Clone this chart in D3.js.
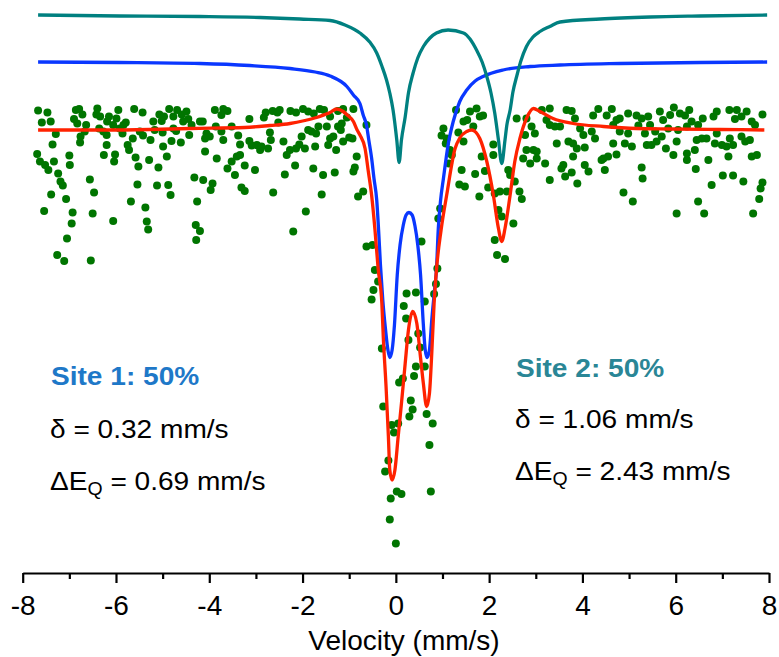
<!DOCTYPE html>
<html>
<head>
<meta charset="utf-8">
<script src="https://cdn.jsdelivr.net/npm/d3@7"></script>
<style>
  body { margin: 0; background: #fff; }
  svg { display: block; font-family: "Liberation Sans", Arial, sans-serif; }
</style>
</head>
<body>
<svg id="chart" width="779" height="657"></svg>
<script>
// velocity ticks
const majorTicks = [-8, -6, -4, -2, 0, 2, 4, 6, 8];
const minorTicks = [-7, -5, -3, -1, 1, 3, 5, 7];

// measured spectrum [velocity mm/s, relative transmission %]
const measured = [
  [-7.67,100.39],[-7.47,100.35],[-7.59,100.15],[-7.40,100.17],[-6.86,100.40],[-6.79,100.42],[-6.72,100.31],[-6.90,100.22],[-6.83,100.13],[-6.64,100.10],
  [-6.40,100.43],[-6.42,100.31],[-6.34,100.27],[-6.15,100.27],[-6.19,100.17],[-5.95,100.40],[-5.99,100.23],[-6.06,100.10],[-5.84,100.10],[-5.79,100.15],
  [-5.92,100.03],[-5.61,100.42],[-5.43,100.35],[-5.20,100.17],[-5.07,100.31],[-4.97,100.27],[-5.02,100.18],[-4.86,100.42],[-4.69,100.40],[-4.77,100.27],
  [-4.59,100.31],[-4.49,100.37],[-4.45,100.22],[-4.56,100.17],[-4.38,100.10],[-4.77,100.03],[-4.20,100.17],
  [-7.29,99.92],[-6.67,99.97],[-6.76,99.87],[-6.27,99.97],[-6.20,99.90],[-6.36,100.03],[-5.86,99.93],[-5.64,99.83],[-5.49,99.97],[-5.42,99.89],
  [-5.00,99.95],[-4.71,99.98],[-4.43,99.90],[-5.17,100.00],
  [-7.36,99.71],[-6.77,99.75],[-6.20,99.70],[-5.75,99.70],[-5.72,99.60],[-5.26,99.80],[-4.99,99.67],[-4.81,99.78],[-4.61,99.75],
  [-7.69,99.52],[-7.63,99.37],[-7.52,99.30],[-7.45,99.20],[-7.33,99.37],[-7.00,99.49],[-6.99,99.30],[-7.24,99.13],[-6.26,99.50],[-6.02,99.51],
  [-6.04,99.37],[-5.58,99.45],[-5.52,99.27],[-5.29,99.40],[-5.09,99.25],[-4.91,99.47],
  [-6.56,99.01],[-7.19,98.97],[-7.14,98.89],[-5.54,98.91],[-5.12,98.89],[-4.88,98.90],[-4.32,99.05],
  [-7.39,98.71],[-6.47,98.75],[-7.07,98.62],[-4.83,98.70],[-5.68,98.57],[-5.37,98.45],[-4.26,98.57],
  [-7.54,98.38],[-6.93,98.35],[-6.50,98.33],[-6.06,98.18],[-6.95,98.13],[-5.34,98.17],[-5.31,98.01],[-4.29,98.10],[-4.28,97.80],[-7.05,97.83],
  [-7.26,97.50],[-7.11,97.38],[-6.54,97.39],
  [-3.88,100.40],[-3.70,100.42],[-3.61,100.38],[-3.74,100.30],[-3.14,100.22],[-2.83,100.25],[-2.79,100.35],[-2.64,100.38],[-2.54,100.35],[-2.49,100.40],
  [-2.52,100.15],[-2.26,100.38],[-2.14,100.35],[-1.99,100.42],[-1.88,100.37],[-1.76,100.33],[-1.63,100.42],[-1.54,100.40],[-1.41,100.27],[-1.24,100.38],
  [-1.13,100.42],[-0.91,100.42],[-1.05,100.25],
  [-4.14,100.17],[-4.06,99.93],[-3.99,99.87],[-4.09,99.83],[-3.86,100.07],[-3.74,99.97],[-3.70,99.80],[-3.52,100.07],[-3.38,99.89],[-3.34,99.71],
  [-3.14,99.78],[-3.09,99.69],[-2.98,99.70],[-2.91,99.60],[-2.88,99.67],[-2.70,99.95],[-2.68,99.80],[-2.74,99.63],[-2.41,99.77],[-2.27,99.60],
  [-2.34,99.50],[-2.14,99.63],[-2.07,99.71],[-2.02,99.87],[-1.95,99.63],[-1.88,100.00],[-1.81,99.97],[-1.71,99.93],[-1.66,100.07],[-1.73,99.67],
  [-1.48,100.07],[-1.41,99.83],[-1.34,99.87],[-1.24,100.07],[-1.18,100.00],[-1.16,100.13],[-1.13,99.77],[-1.00,99.85],[-0.93,99.83],[-1.28,99.60],
  [-1.45,99.70],[-0.63,100.10],
  [-4.09,99.57],[-3.84,99.43],[-3.52,99.37],[-3.41,99.47],[-3.34,99.50],[-3.61,99.23],[-3.45,99.10],[-3.24,99.29],[-3.02,99.20],[-2.38,99.11],
  [-2.16,99.29],[-1.77,99.23],[-1.56,99.10],[-1.31,99.15],[-0.91,99.17],[-0.88,99.25],[-0.84,99.47],
  [-4.13,99.00],[-3.93,98.93],[-3.97,98.80],[-3.31,98.85],[-3.24,98.78],[-2.63,98.75],[-1.59,98.71],[-0.81,98.67],[-0.70,98.77],[-1.93,98.37],
  [-4.20,97.98],[-2.20,97.97],[-0.63,97.67],[-0.50,97.70],[-0.45,97.20],
  [1.29,100.40],[1.59,100.37],[1.73,100.43],[1.80,100.27],[1.87,100.29],[1.45,100.17],[1.53,100.20],[1.66,100.07],[1.02,100.03],[0.98,99.89],
  [1.09,99.83],[1.34,99.95],[1.07,99.73],[1.16,99.60],[1.20,99.50],[1.14,99.33],[1.45,99.77],[1.41,99.20],[1.70,99.12],[1.84,99.47],
  [1.91,99.18],[2.09,99.71],[2.09,99.50],[2.41,99.20],[2.45,99.10],[2.55,98.97],[1.79,98.67],[1.98,98.85],[2.12,98.73],[2.23,98.77],
  [2.38,98.77],[2.65,98.77],[2.70,98.62],[1.36,98.91],[1.48,98.87],[0.95,98.43],[0.91,98.23],[0.55,97.77],[2.52,98.13],[2.12,97.80],
  [2.20,98.40],[2.27,98.27],[2.17,97.50],[2.34,97.42],[0.89,97.23],
  [2.59,100.23],[2.80,100.23],[2.91,100.07],[2.98,99.93],[2.77,99.90],[2.80,99.60],[2.95,99.60],[3.02,99.57],[2.73,99.43],[2.88,99.33],
  [3.02,99.43],[3.20,99.33],[3.13,100.40],[3.30,100.43],[3.23,100.20],[3.30,100.10],[3.41,100.07],[3.52,100.07],[3.66,100.40],[3.45,99.73],
  [3.70,99.77],[3.80,99.73],[3.59,99.30],[3.55,99.23],[3.63,99.07],[3.77,99.15],[3.30,99.00],[3.80,99.47],
  [3.77,100.38],[3.84,100.23],[4.23,100.29],[4.34,100.42],[4.52,100.29],[4.63,100.42],[4.73,100.20],[4.80,100.23],[4.98,100.33],[5.16,100.29],
  [5.27,100.23],[5.41,100.27],[5.66,100.37],[5.73,100.20],[5.88,100.30],[5.96,100.45],[6.09,100.33],[6.20,100.29],[6.29,100.40],[6.34,100.17],
  [6.58,100.23],[6.81,100.27],[6.88,100.37],[7.15,100.40],[7.31,100.40],[7.27,100.22],[7.41,100.27],[7.52,100.37],[7.63,100.17],[7.70,100.10],
  [7.86,100.31],
  [3.95,100.03],[4.02,99.90],[4.20,99.97],[4.27,99.83],[4.66,100.10],[4.80,99.97],[4.98,99.93],[5.20,100.09],[5.34,99.93],[5.45,100.10],
  [5.38,99.70],[5.56,99.97],[5.59,99.77],[5.48,99.70],[5.70,99.87],[5.84,100.03],[6.05,100.00],[6.24,100.07],[6.48,100.10],[6.66,99.83],
  [6.45,99.80],[6.56,99.83],[6.88,99.93],[6.84,99.73],[6.99,99.70],[7.16,99.83],[7.23,99.70],[7.09,99.67],[7.41,99.87],[7.49,99.77],
  [7.59,99.80],[4.91,99.73],[4.66,99.73],[5.06,99.67],[3.88,99.63],[4.05,99.65],[5.79,99.63],[5.95,99.50],[6.02,99.77],[6.24,99.53],
  [6.41,99.60],[6.70,99.40],[6.24,99.40],[7.13,99.47],[7.63,99.47],[7.74,99.50],
  [4.45,99.43],[4.41,99.40],[4.55,99.47],[4.73,99.51],[4.05,99.30],[4.13,99.17],[4.48,99.20],[5.27,99.25],[5.29,99.03],[6.43,99.22],
  [3.89,98.93],[4.88,98.75],[5.08,98.57],[6.77,98.90],[7.01,99.09],[7.23,99.09],[7.45,98.97],[7.86,98.95],[7.82,98.83],[7.79,98.62],
  [6.48,98.57],[6.02,98.33],[6.61,98.33],[7.66,98.33],
  [-0.38,96.97],[-0.48,96.80],[-0.52,96.61],[0.23,96.73],[0.43,96.75],[0.62,96.57],[0.82,96.72],[0.86,96.92],[0.17,96.48],[0.22,96.23],
  [0.27,95.80],[0.48,95.93],[-0.30,95.63],[0.52,95.65],[0.43,95.27],[0.62,95.27],[0.39,95.08],[0.15,95.03],[0.07,94.95],[0.32,94.59],
  [0.36,94.41],[-0.27,94.47],[0.29,94.27],[0.66,94.32],[0.79,94.13],[-0.09,94.10],[0.05,94.13],[-0.04,93.95],[0.72,93.70],[-0.16,93.39],
  [-0.23,93.17],[0.02,92.77],[0.12,92.72],[-0.11,92.63],[0.75,92.77],[-0.13,92.21],[0.00,91.73]
];

// total fit (red)
const fitTotal = [
  [-7.67,100.00],[-6.34,100.00],[-5.27,100.01],[-4.41,100.03],[-3.24,100.05],[-2.70,100.09],[-2.27,100.13],[-1.95,100.19],
  [-1.70,100.25],[-1.52,100.31],[-1.41,100.35],[-1.27,100.42],[-1.13,100.37],[-1.03,100.29],[-0.91,100.17],[-0.83,100.00],
  [-0.77,99.90],[-0.66,99.63],[-0.59,99.17],[-0.52,98.70],[-0.45,98.03],[-0.38,97.23],[-0.30,96.53],[-0.27,95.87],
  [-0.21,94.87],[-0.16,93.87],[-0.13,93.20],[-0.08,93.00],[-0.02,93.20],[0.05,93.87],[0.12,94.53],[0.20,95.33],
  [0.27,96.00],[0.36,96.37],[0.45,96.13],[0.52,95.53],[0.59,94.93],[0.66,94.47],[0.72,94.73],[0.77,95.53],
  [0.82,96.53],[0.87,97.20],[0.97,98.00],[1.09,98.70],[1.27,99.63],[1.37,99.84],[1.52,99.97],[1.63,100.00],
  [1.72,99.95],[1.80,99.83],[1.95,99.37],[2.09,98.70],[2.20,98.03],[2.27,97.77],[2.34,98.03],[2.45,98.70],
  [2.55,99.37],[2.66,99.83],[2.80,100.23],[2.95,100.43],[3.09,100.37],[3.37,100.23],[3.80,100.13],[4.45,100.07],
  [5.16,100.03],[5.88,100.02],[6.95,100.01],[7.90,100.00]
];

// site 1 doublet (blue, offset)
const fitSite1 = [
  [-7.67,101.36],[-5.92,101.35],[-4.20,101.33],[-3.13,101.29],[-2.27,101.23],[-1.73,101.16],[-1.41,101.08],[-1.05,100.87],
  [-0.91,100.70],[-0.77,100.53],[-0.70,100.30],[-0.63,100.10],[-0.58,99.80],[-0.52,99.44],[-0.47,99.04],[-0.41,98.60],
  [-0.37,98.00],[-0.33,97.30],[-0.28,96.60],[-0.22,96.00],[-0.17,95.60],[-0.13,95.45],[-0.08,95.60],[-0.03,96.10],
  [0.03,97.10],[0.09,97.70],[0.16,98.10],[0.22,98.30],[0.28,98.35],[0.35,98.30],[0.41,98.08],[0.47,97.70],
  [0.53,97.10],[0.59,96.10],[0.63,95.60],[0.67,95.45],[0.72,95.60],[0.77,96.20],[0.83,96.80],[0.87,97.20],
  [0.91,98.03],[0.96,98.60],[1.02,99.03],[1.12,99.70],[1.23,100.17],[1.37,100.57],[1.52,100.80],[1.70,100.98],
  [1.87,101.07],[2.30,101.20],[2.88,101.27],[3.52,101.30],[4.80,101.33],[6.52,101.35],[7.96,101.36]
];

// site 2 doublet (teal, offset)
const fitSite2 = [
  [-7.67,102.30],[-5.92,102.28],[-4.20,102.27],[-2.91,102.25],[-2.06,102.22],[-1.41,102.19],[-1.09,102.10],[-0.77,101.94],
  [-0.56,101.76],[-0.41,101.54],[-0.30,101.28],[-0.20,101.00],[-0.13,100.74],[-0.06,100.40],[0.02,99.80],[0.07,99.35],
  [0.12,99.80],[0.20,100.26],[0.27,100.74],[0.37,101.14],[0.47,101.44],[0.59,101.67],[0.73,101.84],[0.87,101.94],
  [1.12,102.00],[1.45,101.94],[1.59,101.82],[1.73,101.60],[1.85,101.36],[1.95,101.07],[2.04,100.74],[2.12,100.34],
  [2.20,99.80],[2.27,99.33],[2.34,99.80],[2.38,100.10],[2.45,100.40],[2.51,100.76],[2.59,101.07],[2.68,101.38],
  [2.80,101.67],[2.94,101.86],[3.09,101.97],[3.30,102.07],[3.52,102.16],[4.38,102.22],[5.45,102.26],[6.52,102.28],[7.96,102.30]
];

const svg = d3.select('#chart');
const axisY = 573;

const x = d3.scaleLinear().domain([-8, 8]).range([22.7, 769]);
const y = d3.scaleLinear().domain([91.14, 102.6]).range([axisY, 0]);

// puntos experimentales
svg.append('g')
  .selectAll('circle')
  .data(measured)
  .enter()
  .append('circle')
  .attr('cx', d => x(d[0]))
  .attr('cy', d => y(d[1]))
  .attr('r', 4)
  .attr('fill', '#007500');

const line = d3.line()
  .x(d => x(d[0]))
  .y(d => y(d[1]))
  .curve(d3.curveMonotoneX);

const curves = [
  { data: fitSite1, color: '#0a37ff' },
  { data: fitSite2, color: '#008080' },
  { data: fitTotal, color: '#ff2200' }
];

curves.forEach(c => {
  svg.append('path')
    .datum(c.data)
    .attr('fill', 'none')
    .attr('stroke', c.color)
    .attr('stroke-width', 3.3)
    .attr('stroke-linejoin', 'round')
    .attr('d', line);
});

// eje X
const axis = svg.append('g')
  .attr('transform', `translate(0,${axisY})`)
  .call(d3.axisBottom(x)
    .tickValues(majorTicks)
    .tickSize(10)
    .tickSizeOuter(0)
    .tickPadding(12)
    .tickFormat(d => String(d)));

axis.select('.domain').attr('stroke', '#000').attr('stroke-width', 2.2);
axis.selectAll('.tick line').attr('stroke', '#000').attr('stroke-width', 2.2);
axis.selectAll('.tick text')
  .attr('fill', '#000')
  .style('font-size', '28px')
  .style('font-family', '"Liberation Sans", Arial, sans-serif');

const minorAxis = svg.append('g')
  .attr('transform', `translate(0,${axisY})`)
  .call(d3.axisBottom(x)
    .tickValues(minorTicks)
    .tickSize(6)
    .tickSizeOuter(0)
    .tickFormat(''));
minorAxis.select('.domain').remove();
minorAxis.selectAll('.tick line').attr('stroke', '#000').attr('stroke-width', 2.2);

svg.append('text')
  .attr('x', 404)
  .attr('y', 650)
  .attr('text-anchor', 'middle')
  .style('font-size', '28px')
  .text('Velocity (mm/s)');

// anotaciones de los sitios
const annotations = [
  { site: 'Site 1: 50%', color: '#1e78c8', delta: '0.32', eq: '0.69', x: 51, ys: [385, 438, 490] },
  { site: 'Site 2: 50%', color: '#2a8696', delta: '1.06', eq: '2.43', x: 516, ys: [377, 428, 480] }
];

annotations.forEach(a => {
  const g = svg.append('g').style('font-size', '26px');
  g.append('text')
    .attr('transform', `translate(${a.x},${a.ys[0]}) scale(1.08,1)`)
    .attr('fill', a.color)
    .style('font-weight', 'bold')
    .text(a.site);
  g.append('text')
    .attr('transform', `translate(${a.x - 1},${a.ys[1]}) scale(1.08,1)`)
    .text(`δ = ${a.delta} mm/s`);
  const t = g.append('text')
    .attr('transform', `translate(${a.x - 1},${a.ys[2]}) scale(1.08,1)`);
  t.append('tspan').text('ΔE');
  t.append('tspan').attr('dy', 5).style('font-size', '18px').text('Q');
  t.append('tspan').attr('dy', -5).text(` = ${a.eq} mm/s`);
});
</script>
</body>
</html>
